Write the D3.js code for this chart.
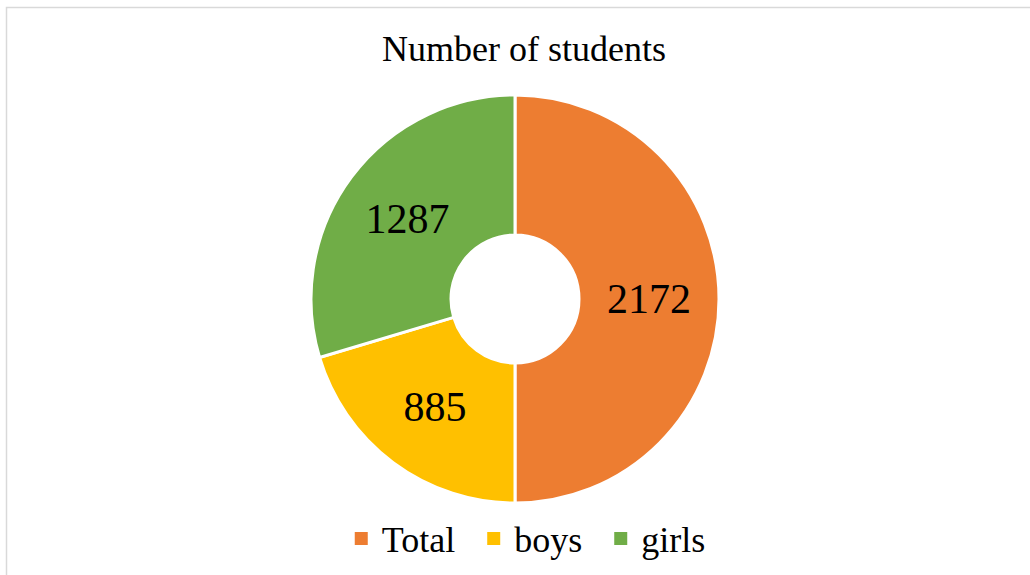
<!DOCTYPE html>
<html>
<head>
<meta charset="utf-8">
<script src="https://cdn.jsdelivr.net/npm/d3@7"></script>
<style>
	body { margin: 0; background: #fff; }
	svg { display: block; }
	text { font-family: 'Liberation Serif', 'Times New Roman', Times, Tinos, 'DejaVu Serif', serif; }
</style>
</head>
<body>
<div id="chart"></div>
<script>
const categories = ['Total', 'boys', 'girls'];
const values = [2172, 885, 1287];
const colors = ['#ED7D31', '#FFC000', '#70AD47'];
const chartTitle = 'Number of students';

const W = 1030;
const H = 575;

const svg = d3.select('#chart').append('svg').attr('width', W).attr('height', H);

// chart frame (runs past the right and bottom edges)
svg.append('rect')
	.attr('x', 6.5)
	.attr('y', 7.5)
	.attr('width', W + 20)
	.attr('height', H + 20)
	.attr('fill', 'none')
	.attr('stroke', '#d9d9d9')
	.attr('stroke-width', 1.5);

svg.append('text')
	.attr('x', 524)
	.attr('y', 61)
	.attr('text-anchor', 'middle')
	.style('font-size', '36px')
	.text(chartTitle);

const cx = 515;
const cy = 299;
const outerR = 204;
const innerR = 64;

const data = categories.map((c, i) => ({ name: c, value: values[i], color: colors[i] }));

const pie = d3.pie().value((d) => d.value).sort(null);
const arc = d3.arc().innerRadius(innerR).outerRadius(outerR);
const labelArc = d3.arc().innerRadius((innerR + outerR) / 2).outerRadius((innerR + outerR) / 2);

const g = svg.append('g').attr('transform', `translate(${cx},${cy})`);

const slices = g.selectAll('.slice').data(pie(data)).enter().append('g').attr('class', 'slice');

slices.append('path')
	.attr('d', arc)
	.attr('fill', (d) => d.data.color)
	.attr('stroke', '#fff')
	.attr('stroke-width', 3);

slices.append('text')
	.attr('transform', (d) => `translate(${labelArc.centroid(d)})`)
	.attr('text-anchor', 'middle')
	.attr('dy', '0.34em')
	.style('font-size', '42px')
	.text((d) => d.data.value);

// legend
const legend = svg.append('g').attr('class', 'legend');
const items = legend.selectAll('.legend-item').data(data).enter().append('g').attr('class', 'legend-item');

items.append('rect')
	.attr('width', 13)
	.attr('height', 13)
	.attr('y', -20)
	.attr('fill', (d) => d.color);

items.append('text')
	.attr('x', 27)
	.attr('y', 0)
	.style('font-size', '36px')
	.text((d) => d.name);

let offset = 0;
const widths = [];
items.each(function () {
	const w = d3.select(this).select('text').node().getComputedTextLength() + 27;
	widths.push(w);
});
const gap = 32;
const total = d3.sum(widths) + gap * (widths.length - 1);
let startX = 530 - total / 2;
items.attr('transform', (d, i) => {
	const x = startX + offset;
	offset += widths[i] + gap;
	return `translate(${x},552)`;
});
</script>
</body>
</html>
